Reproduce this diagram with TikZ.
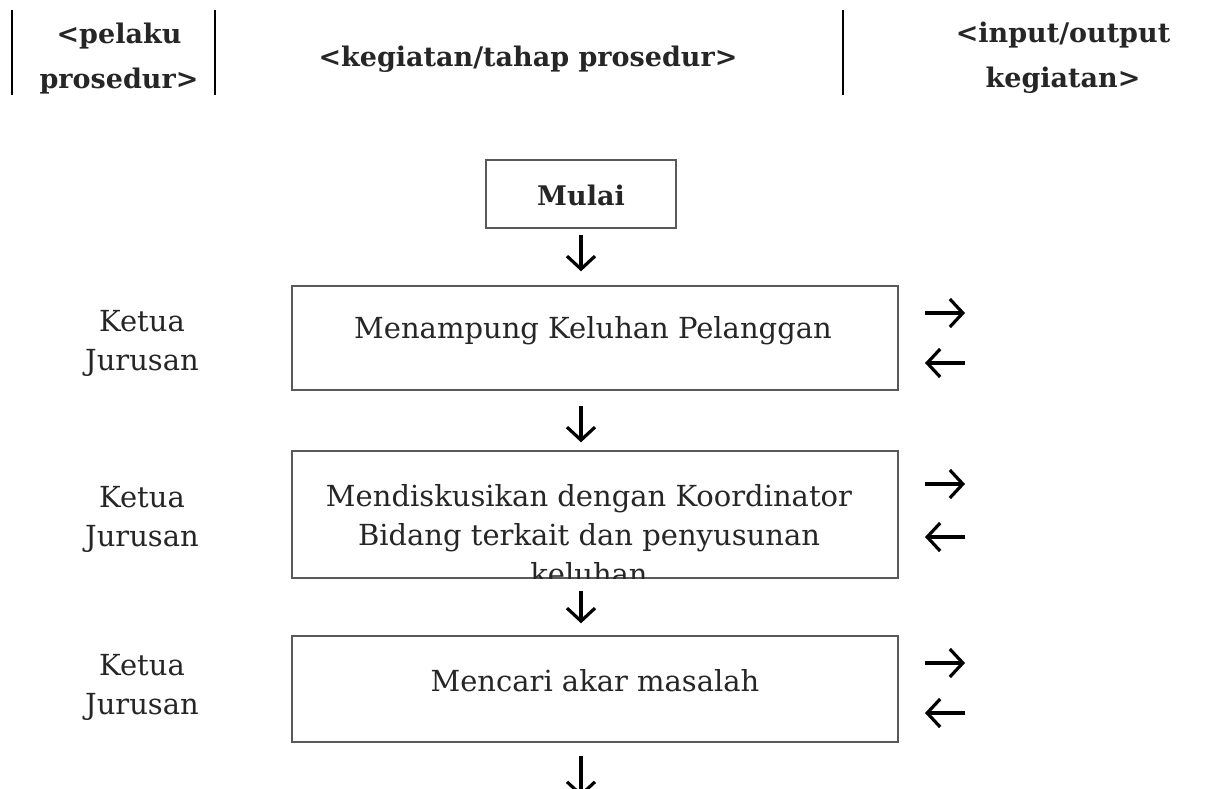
\documentclass[tikz,border=0pt]{standalone}
\usepackage{fontspec}
\setmainfont{DejaVu Serif}
\usetikzlibrary{arrows.meta}
\begin{document}
\begin{tikzpicture}[x=1pt,y=-1pt,
  hdr/.style={font=\fontsize{27}{45}\selectfont\bfseries, text=black!85, align=center, inner sep=0pt},
  txt/.style={font=\fontsize{29}{39}\selectfont, text=black!85, align=center, inner sep=0pt},
  box/.style={draw=black!65, line width=1.4pt, rectangle, inner sep=0pt},
  sep/.style={draw=black, line width=1.4pt},
  arr/.style={draw=black, line width=3.2pt, -{Straight Barb[length=13pt,width=28pt]}},
]
\useasboundingbox (0,0) rectangle (1220,789);
\fill[white] (0,0) rectangle (1220,789);
% header
\coordinate (l1t) at (12,10); \coordinate (l1b) at (12,95);
\coordinate (l2t) at (215,10); \coordinate (l2b) at (215,95);
\coordinate (l3t) at (843,10); \coordinate (l3b) at (843,95);
\draw[sep] (l1t) -- (l1b);
\draw[sep] (l2t) -- (l2b);
\draw[sep] (l3t) -- (l3b);
\node[hdr] (h1) at (119,59) {<pelaku\\prosedur>};
\node[hdr] (h2) at (528,59) {<kegiatan/tahap prosedur>};
\node[hdr] (h3) at (1063,58) {<input/output\\kegiatan>};
% boxes
\node[box, minimum width=190, minimum height=68] (mulai) at (581,194) {};
\node[txt, font=\fontsize{27}{38}\selectfont\bfseries] (tm) at (581,195) {Mulai};
\node[box, minimum width=606, minimum height=104] (b1) at (595,338) {};
\node[box, minimum width=606, minimum height=127] (b2) at (595,514.5) {};
\node[box, minimum width=606, minimum height=106] (b3) at (595,689) {};
\node[txt] (t1) at (593,331) {Menampung Keluhan Pelanggan};
\begin{scope}
\clip (b2.north west) rectangle (b2.south east);
\node[txt, anchor=north] (t2) at (589,484) {Mendiskusikan dengan Koordinator\\Bidang terkait dan penyusunan\\keluhan};
\end{scope}
\node[txt] (t3) at (595,681) {Mencari akar masalah};
% actors
\node[txt] (a1) at (142,343) {Ketua\\Jurusan};
\node[txt] (a2) at (142,519) {Ketua\\Jurusan};
\node[txt] (a3) at (142,687) {Ketua\\Jurusan};
% flow arrows
\draw[arr, shorten <=6pt, shorten >=14pt] (mulai.south) -- (mulai.south |- b1.north);
\draw[arr, shorten <=15pt, shorten >=8pt] (mulai.south |- b1.south) -- (mulai.south |- b2.north);
\draw[arr, shorten <=12pt, shorten >=12pt] (mulai.south |- b2.south) -- (mulai.south |- b3.north);
\coordinate (end) at (581,797);
\draw[arr, shorten <=13pt] (mulai.south |- b3.south) -- (end);
% input/output arrows
\foreach \n/\ya/\yb in {1/313/363, 2/484/537, 3/663/713}{
  \coordinate (i\n a) at (925,\ya); \coordinate (o\n a) at (965,\ya);
  \coordinate (i\n b) at (925,\yb); \coordinate (o\n b) at (965,\yb);
  \draw[arr] (i\n a) -- (o\n a);
  \draw[arr] (o\n b) -- (i\n b);
}
\end{tikzpicture}
\end{document}
